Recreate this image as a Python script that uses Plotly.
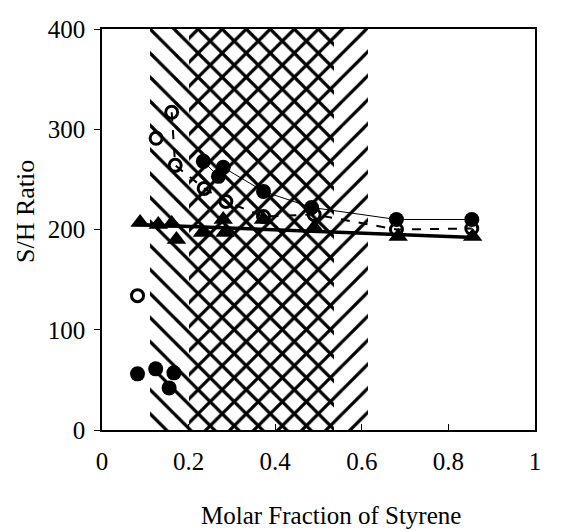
import plotly.graph_objects as go

# ---- data ----
open_x = [0.082, 0.125, 0.161, 0.169, 0.236, 0.286, 0.373, 0.490, 0.680, 0.854]
open_y = [134, 291, 317, 264, 241, 228, 213, 215, 200, 201]
open_line_x = [0.161, 0.169, 0.236, 0.286, 0.373, 0.490, 0.680, 0.854]
open_line_y = [317, 264, 241, 228, 213, 215, 200, 201]

filled_x = [0.082, 0.124, 0.155, 0.166, 0.234, 0.269, 0.280, 0.373, 0.484, 0.680, 0.854]
filled_y = [56, 61, 42, 57, 268, 253, 262, 238, 222, 210, 210]
filled_line_x = [0.234, 0.269, 0.280, 0.373, 0.484, 0.680, 0.854]
filled_line_y = [268, 253, 262, 238, 222, 210, 210]

tri_x = [0.088, 0.130, 0.161, 0.172, 0.232, 0.280, 0.284, 0.373, 0.490, 0.684, 0.856]
tri_y = [207, 205, 206, 190, 197, 210, 197, 210, 202, 193, 193]

trend_x = [0.08, 0.86]
trend_y = [205, 192]

# hatched regions (x-extent) and y extent
region_a = (0.11, 0.535)   # "\\" hatch
region_b = (0.20, 0.615)   # "/" hatch
region_top = 400

x_ticks = [0, 0.2, 0.4, 0.6, 0.8, 1]
x_tick_text = ["0", "0.2", "0.4", "0.6", "0.8", "1"]
y_ticks = [0, 100, 200, 300, 400]

x_title = "Molar Fraction of Styrene"
y_title = "S/H Ratio"

fig = go.Figure()

for (a, b), shp in [(region_b, "/"), (region_a, "\\")]:
    fig.add_trace(go.Bar(
        x=[(a + b) / 2], y=[region_top], width=[b - a], base=0,
        marker=dict(color="rgba(0,0,0,0)", line=dict(width=0),
                    pattern=dict(shape=shp, fgcolor="black", bgcolor="rgba(0,0,0,0)",
                                 size=17, solidity=0.19, fgopacity=1)),
        hoverinfo="skip", showlegend=False))

fig.add_trace(go.Scatter(x=trend_x, y=trend_y, mode="lines",
                         line=dict(color="black", width=3.5), showlegend=False))
fig.add_trace(go.Scatter(x=filled_line_x, y=filled_line_y, mode="lines",
                         line=dict(color="black", width=1), showlegend=False))
fig.add_trace(go.Scatter(x=open_line_x, y=open_line_y, mode="lines",
                         line=dict(color="black", width=2, dash="dash"), showlegend=False))

fig.add_trace(go.Scatter(x=tri_x, y=tri_y, mode="markers",
                         marker=dict(symbol="triangle-up", size=17, color="black"),
                         showlegend=False))
fig.add_trace(go.Scatter(x=filled_x, y=filled_y, mode="markers",
                         marker=dict(symbol="circle", size=15, color="black"),
                         showlegend=False))
fig.add_trace(go.Scatter(x=open_x, y=open_y, mode="markers",
                         marker=dict(symbol="circle-open", size=12, color="black",
                                     line=dict(width=3, color="black")),
                         showlegend=False))

font = "Liberation Serif, Times New Roman, serif"
L, R, T, B = 102, 37, 29, 101
W, H = 572, 531
pw, ph = W - L - R, H - T - B

fig.update_layout(
    width=W, height=H,
    margin=dict(l=L, r=R, t=T, b=B),
    plot_bgcolor="white", paper_bgcolor="white",
    barmode="overlay", bargap=0,
    font=dict(family=font, color="black", size=25),
    xaxis=dict(range=[0, 1], tickvals=x_ticks, ticktext=x_tick_text,
               ticks="inside", ticklen=6, tickcolor="black",
               tickfont=dict(family=font, size=25, color="black"),
               ticklabelstandoff=8,
               showline=True, linecolor="black", linewidth=1.5, mirror=True,
               showgrid=False, zeroline=False),
    yaxis=dict(range=[0, 400], tickvals=y_ticks,
               ticks="outside", ticklen=6, tickcolor="black",
               tickfont=dict(family=font, size=25, color="black"),
               ticklabelstandoff=4,
               showline=True, linecolor="black", linewidth=1.5, mirror=True,
               showgrid=False, zeroline=False),
    annotations=[
        dict(text=x_title, xref="paper", yref="paper",
             x=(331 - L) / pw, y=-(515 - (H - B)) / ph,
             xanchor="center", yanchor="middle", showarrow=False,
             font=dict(family=font, size=25, color="black")),
        dict(text=y_title, xref="paper", yref="paper",
             x=(25 - L) / pw, y=((H - B) - 212) / ph, textangle=-90,
             xanchor="center", yanchor="middle", showarrow=False,
             font=dict(family=font, size=26, color="black")),
    ],
)

fig.write_html("out.html", config={"displayModeBar": False},
               post_script="document.body.style.margin='0';")
